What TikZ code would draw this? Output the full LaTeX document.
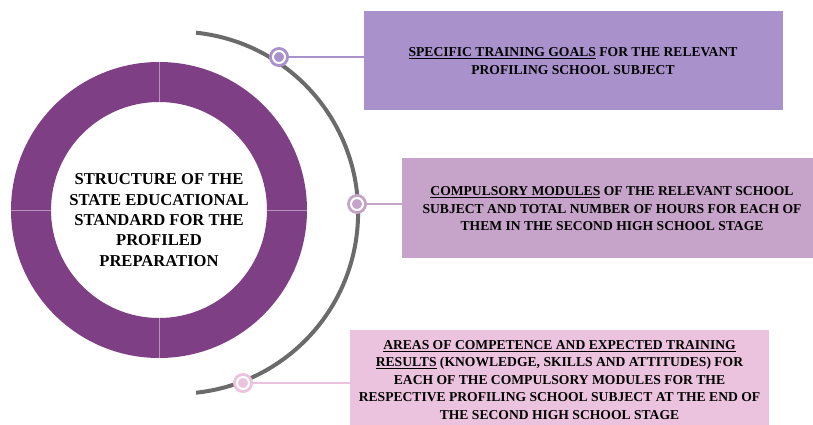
\documentclass[tikz,border=0pt]{standalone}
\usepackage{fontspec}
\setmainfont{Liberation Serif}
\definecolor{boxA}{HTML}{A991CC}
\definecolor{boxB}{HTML}{C6A3C8}
\definecolor{boxC}{HTML}{ECC3DE}
\definecolor{ringc}{HTML}{7F3F84}
\definecolor{divc}{HTML}{B990C0}
\definecolor{arcc}{HTML}{6B6B6B}
\begin{document}
\begin{tikzpicture}[x=1pt,y=-1pt,
  infobox/.style={fill=#1, draw=none, inner sep=0pt, anchor=north west},
  boxtext/.style={align=center, font=\bfseries\fontsize{13.6}{17.5}\selectfont, inner sep=0pt},
  marker/.style={circle, fill=#1, draw=none, minimum size=20pt, inner sep=0pt,
    path picture={\draw[white,line width=2pt] (path picture bounding box.center) circle[radius=6pt];}},
  link/.style={draw=#1, line width=1.3pt}
]
\useasboundingbox (0,0) rectangle (813,425);
% ring
\fill[ringc, even odd rule] (159,210) circle[radius=148] (159,210) circle[radius=108];
\draw[divc, line width=0.8pt] (159,62) -- (159,102);
\draw[divc, line width=0.8pt] (159,318) -- (159,358);
\draw[divc, line width=0.8pt] (11,210) -- (51,210);
\draw[divc, line width=0.8pt] (267,210) -- (307,210);
\node[align=center, font=\bfseries\fontsize{16.6}{20.3}\selectfont, inner sep=0pt] (core) at (159,220)
  {STRUCTURE OF THE\\STATE EDUCATIONAL\\STANDARD FOR THE\\PROFILED\\PREPARATION};
% arc
\draw[arcc, line width=4pt] (196,32.7) arc[start angle=-84, end angle=84, radius=181];
% boxes
\node[infobox=boxA, minimum width=419pt, minimum height=99pt] (b1) at (364,11) {};
\node[infobox=boxB, minimum width=411pt, minimum height=100pt] (b2) at (402,158) {};
\node[infobox=boxC, minimum width=419pt, minimum height=95pt] (b3) at (350,330) {};
\node[boxtext] (t1) at (573,61) {\underline{SPECIFIC TRAINING GOALS} FOR THE RELEVANT\\PROFILING SCHOOL SUBJECT};
\node[boxtext] (t2) at (612,209) {\underline{COMPULSORY MODULES} OF THE RELEVANT SCHOOL\\SUBJECT AND TOTAL NUMBER OF HOURS FOR EACH OF\\THEM IN THE SECOND HIGH SCHOOL STAGE};
\node[boxtext] (t3) at (559.5,380) {\underline{AREAS OF COMPETENCE AND EXPECTED TRAINING}\\\underline{RESULTS} (KNOWLEDGE, SKILLS AND ATTITUDES) FOR\\EACH OF THE COMPULSORY MODULES FOR THE\\RESPECTIVE PROFILING SCHOOL SUBJECT AT THE END OF\\THE SECOND HIGH SCHOOL STAGE};
% markers
\node[marker=boxA] (m1) at (279,57) {};
\node[marker=boxB] (m2) at (357,204) {};
\node[marker=boxC] (m3) at (243,383) {};
% connectors
\draw[link=boxA] (m1.east) -- (m1 -| b1.west);
\draw[link=boxB] (m2.east) -- (m2 -| b2.west);
\draw[link=boxC] (m3.east) -- (m3 -| b3.west);
\end{tikzpicture}
\end{document}
